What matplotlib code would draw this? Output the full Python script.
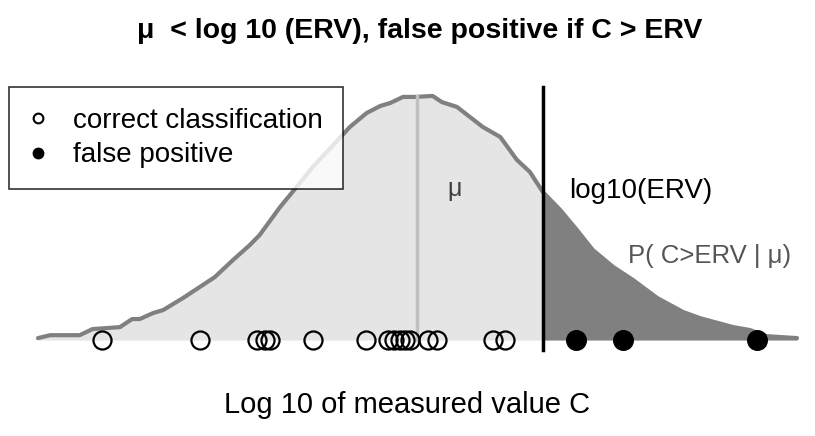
import numpy as np
import matplotlib
matplotlib.use('Agg')
import matplotlib.pyplot as plt
from matplotlib.lines import Line2D

plt.rcParams['font.family'] = ['Liberation Sans', 'DejaVu Sans']

# density curve of log10 C (peak scaled to 1)
curve_x = [0.00, 0.16, 0.55, 0.72, 1.08, 1.24, 1.34, 1.52, 1.65, 1.91, 2.13, 2.33,
           2.57, 2.79, 2.92, 3.19, 3.45, 3.62, 3.89, 4.11, 4.33, 4.51, 4.64, 4.81,
           4.97, 5.20, 5.32, 5.52, 5.69, 5.86, 6.09, 6.31, 6.48, 6.65, 6.88, 7.10,
           7.31, 7.58, 7.84, 8.16, 8.50, 8.72, 9.16, 9.38, 9.60, 10.00]
curve_y = [0.008, 0.020, 0.020, 0.045, 0.053, 0.086, 0.086, 0.111, 0.123, 0.172, 0.217, 0.258,
           0.328, 0.389, 0.430, 0.545, 0.643, 0.709, 0.799, 0.873, 0.930, 0.959, 0.971, 0.996,
           0.996, 1.000, 0.975, 0.955, 0.914, 0.873, 0.832, 0.738, 0.689, 0.607, 0.533, 0.451,
           0.369, 0.299, 0.246, 0.172, 0.115, 0.090, 0.053, 0.041, 0.016, 0.008]

mu = 4.99
erv = 6.65

# measured values
correct = [0.84, 2.13, 2.89, 2.99, 3.06, 3.62, 4.32, 4.61, 4.69, 4.77, 4.84, 4.90,
           5.14, 5.26, 5.99, 6.15]
false_pos = [7.09, 7.71, 9.47]

cx = np.array(curve_x)
cy = np.array(curve_y)

fig = plt.figure(figsize=(8.15, 4.36), dpi=100)
ax = fig.add_axes([0, 0, 1, 1])
ax.set_xlim(-0.5, 10.237)
ax.set_ylim(-0.393, 1.393)
ax.axis('off')

# split the area at ERV
ye = np.interp(erv, cx, cy)
left = cx < erv
lx = np.append(cx[left], erv)
ly = np.append(cy[left], ye)
rx = np.insert(cx[~left], 0, erv)
ry = np.insert(cy[~left], 0, ye)
ax.fill_between(lx, 0, ly, color='#e5e5e5', lw=0)
ax.fill_between(rx, 0, ry, color='#808080', lw=0)
ax.plot(cx, cy, color='#808080', lw=3, solid_capstyle='round', solid_joinstyle='round')

ax.plot([mu, mu], [0, 1.0], color='#c0c0c0', lw=2.5)
ax.plot([erv, erv], [-0.041, 1.037], color='black', lw=2.5)

ax.plot(correct, [0] * len(correct), 'o', ms=13, mfc='none', mec='black', mew=1.6)
ax.plot(false_pos, [0] * len(false_pos), 'o', ms=13.5, mfc='black', mec='black', mew=1.6)

ax.text(5.49, 0.62, 'μ', fontsize=18, color='#404040', ha='center', va='center')
ax.text(7.0, 0.61, 'log10(ERV)', fontsize=20, color='black', ha='left', va='center')
ax.text(7.78, 0.345, 'P( C>ERV | μ)', fontsize=18.5, color='#555555', ha='left', va='center')

handles = [Line2D([], [], ls='none', marker='o', ms=7, mfc='white', mec='black', mew=1.5),
           Line2D([], [], ls='none', marker='o', ms=7, mfc='black', mec='black', mew=1.5)]
leg = ax.legend(handles, ['correct classification', 'false positive'],
                loc='upper left', bbox_to_anchor=(0.011, 0.80), borderaxespad=0,
                fontsize=20, frameon=True, fancybox=False, edgecolor='black',
                handletextpad=0.95, labelspacing=0.3, borderpad=0.75, handlelength=0.6)
leg.get_frame().set_linewidth(1.2)

fig.text(0.515, 0.93, 'μ  < log 10 (ERV), false positive if C > ERV', fontsize=20.5,
         fontweight='bold', ha='center', va='center')
fig.text(0.5, 0.07, 'Log 10 of measured value C', fontsize=21, ha='center', va='center')

fig.savefig('out.png', dpi=100)
